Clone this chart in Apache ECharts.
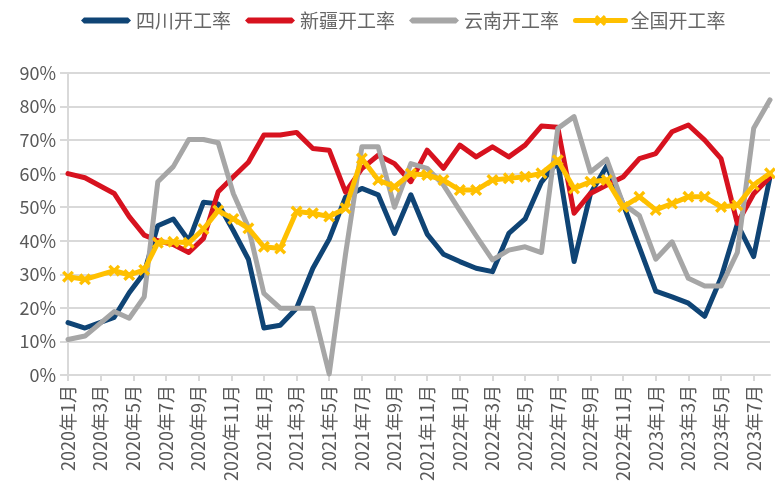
<!DOCTYPE html>
<html>
<head>
<meta charset="utf-8">
<script src="https://cdn.jsdelivr.net/npm/echarts@6/dist/echarts.min.js"></script>
<style>
  html, body { margin: 0; padding: 0; background: #fff; }
  #chart { width: 775px; height: 497px; }
</style>
</head>
<body>
<div id="chart"></div>
<script>
// 横轴刻度标签：月份
const months = [
  '2020年1月', '2020年2月', '2020年3月', '2020年4月', '2020年5月', '2020年6月',
  '2020年7月', '2020年8月', '2020年9月', '2020年10月', '2020年11月', '2020年12月',
  '2021年1月', '2021年2月', '2021年3月', '2021年4月', '2021年5月', '2021年6月',
  '2021年7月', '2021年8月', '2021年9月', '2021年10月', '2021年11月', '2021年12月',
  '2022年1月', '2022年2月', '2022年3月', '2022年4月', '2022年5月', '2022年6月',
  '2022年7月', '2022年8月', '2022年9月', '2022年10月', '2022年11月', '2022年12月',
  '2023年1月', '2023年2月', '2023年3月', '2023年4月', '2023年5月', '2023年6月',
  '2023年7月', '2023年8月'
];

// 各观测点的日期位置（自2020年1月起的月数，读自原图）
const monthPos = [0, 1.04, 2.83, 3.75, 4.67, 5.5, 6.45, 7.4, 8.3, 9.2, 10.13, 11.05,
  12, 13, 14, 15, 16, 17, 18, 19, 20, 21, 22, 23,
  24, 25, 26, 27, 28, 29, 30, 31, 32, 33, 34, 35,
  36, 37, 38, 39, 40, 41, 42, 43];

// 开工率（%）
const sichuan = [15.6, 14.0, 17.2, 24.5, 30.5, 44.5, 46.5, 40.0, 51.5, 51.0, 43.0, 34.5,
  14.0, 14.8, 19.9, 31.8, 40.5, 53.0, 55.6, 53.7, 42.2, 53.7, 42.0, 36.0,
  33.8, 31.8, 30.8, 42.2, 46.5, 57.5, 63.5, 33.8, 54.0, 62.3, 51.0, 38.0,
  25.0, 23.3, 21.4, 17.5, 29.0, 45.0, 35.3, 59.0];
const xinjiang = [60.0, 58.8, 54.1, 47.2, 41.7, 40.0, 38.9, 36.5, 40.7, 54.6, 59.1, 63.4,
  71.5, 71.5, 72.3, 67.5, 67.0, 54.5, 61.5, 65.5, 63.0, 57.6, 67.0, 61.6,
  68.5, 65.0, 68.0, 65.0, 68.5, 74.2, 73.8, 48.2, 54.1, 56.6, 59.0, 64.5,
  66.0, 72.5, 74.5, 70.0, 64.5, 45.2, 54.0, 59.0];
const yunnan = [10.6, 11.6, 18.9, 16.9, 23.3, 57.6, 62.1, 70.2, 70.2, 69.2, 54.0, 44.0,
  24.3, 19.9, 19.9, 19.9, 0.3, 36.0, 68.0, 68.0, 50.0, 63.0, 61.6, 56.6,
  49.0, 41.5, 34.3, 37.2, 38.2, 36.5, 73.5, 77.0, 60.5, 64.3, 51.0, 47.5,
  34.5, 39.7, 28.8, 26.5, 26.5, 36.5, 73.5, 82.0];
const quanguo = [29.3, 28.5, 31.1, 29.8, 31.3, 39.4, 39.7, 39.4, 43.5, 49.0, 46.5, 43.7,
  38.2, 37.7, 48.7, 48.2, 47.2, 49.7, 64.5, 58.1, 56.1, 60.0, 59.6, 58.1,
  55.1, 55.1, 58.1, 58.6, 59.1, 60.1, 64.0, 55.6, 57.6, 58.1, 50.1, 53.1,
  49.2, 51.1, 53.1, 53.1, 50.1, 50.6, 56.6, 60.1];

const FONT = '"Noto Sans CJK SC", "Noto Sans", sans-serif';
const GRID_COLOR = '#d9d9d9';
const TEXT_COLOR = '#595959';
// X形标记 / 图例粗线
const crossMark = 'path://M0,2L2,0L5,3L8,0L10,2L7,5L10,8L8,10L5,7L2,10L0,8L3,5Z';
const barIcon = 'path://M3,0L47,0L50,3L47,6L3,6L0,3Z';

function lineSeries(name, data, color, withMark) {
  return {
    name: name,
    type: 'line',
    data: data.map((v, i) => [monthPos[i], v]),
    symbol: withMark ? crossMark : 'none',
    symbolSize: 12,
    showSymbol: withMark,
    itemStyle: { color: color },
    lineStyle: { color: color, width: 5, cap: 'round', join: 'round' },
    z: withMark ? 5 : 2
  };
}

const chart = echarts.init(document.getElementById('chart'));
chart.setOption({
  animation: false,
  textStyle: { fontFamily: FONT },
  legend: {
    top: 6,
    left: 76,
    itemWidth: 50,
    itemHeight: 14,
    itemGap: 14,
    textStyle: { fontSize: 19, color: '#666666', fontFamily: FONT },
    data: [
      { name: '四川开工率', icon: barIcon },
      { name: '新疆开工率', icon: barIcon },
      { name: '云南开工率', icon: barIcon },
      { name: '全国开工率', lineStyle: { width: 5 } }
    ]
  },
  grid: { left: 68, right: 5, top: 73, bottom: 122 },
  xAxis: {
    type: 'value',
    min: 0,
    max: 43,
    interval: 2,
    splitLine: { show: false },
    axisLine: { lineStyle: { color: GRID_COLOR, width: 2 } },
    axisTick: { length: 6, lineStyle: { color: GRID_COLOR, width: 2 } },
    axisLabel: {
      rotate: 90, margin: 10, fontSize: 18, color: TEXT_COLOR, fontFamily: FONT,
      showMaxLabel: false,
      formatter: (v) => months[v] || ''
    }
  },
  yAxis: {
    type: 'value',
    min: 0,
    max: 90,
    interval: 10,
    axisLine: { show: true, lineStyle: { color: GRID_COLOR, width: 2 } },
    axisTick: { show: true, length: 8, lineStyle: { color: GRID_COLOR, width: 2 } },
    axisLabel: { formatter: '{value}%', fontSize: 18, color: TEXT_COLOR, margin: 12, fontFamily: FONT },
    splitLine: { lineStyle: { color: GRID_COLOR, width: 2 } }
  },
  series: [
    lineSeries('四川开工率', sichuan, '#0f4475', false),
    lineSeries('新疆开工率', xinjiang, '#d7121f', false),
    lineSeries('云南开工率', yunnan, '#a6a6a6', false),
    lineSeries('全国开工率', quanguo, '#ffc000', true)
  ]
});
</script>
</body>
</html>
